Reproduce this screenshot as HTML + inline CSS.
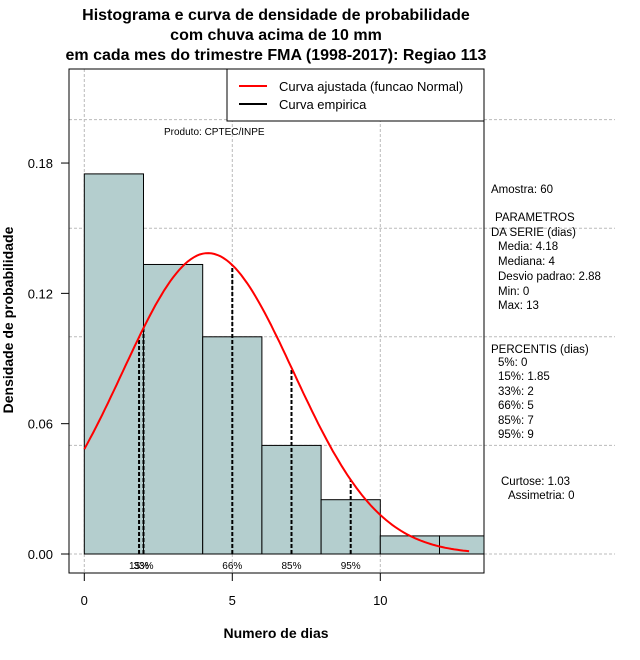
<!DOCTYPE html>
<html><head><meta charset="utf-8"><style>
body{margin:0;background:#fff;}
svg{display:block;font-family:"Liberation Sans",sans-serif;}
</style></head><body>
<svg id="chart" width="640" height="660" viewBox="0 0 640 660" xmlns="http://www.w3.org/2000/svg">
<g font-weight="bold" font-size="16" text-anchor="middle">
<text x="276" y="20">Histograma e curva de densidade de probabilidade</text>
<text x="276" y="40">com chuva acima de 10 mm</text>
<text x="276" y="60">em cada mes do trimestre FMA (1998-2017): Regiao 113</text>
</g>
<g id="grid"></g>
<g id="bars"></g>
<g id="pct"></g>
<path id="curve" fill="none" stroke="#f00" stroke-width="2"/>
<rect x="69" y="69" width="415" height="504" fill="none" stroke="#000"/>
<g id="axes" font-size="13"></g>
<text x="276" y="638" font-weight="bold" font-size="14" text-anchor="middle">Numero de dias</text>
<text transform="translate(13,320) rotate(-90)" font-weight="bold" font-size="14" text-anchor="middle">Densidade de probabilidade</text>
<g>
<rect x="227" y="69" width="257" height="52" fill="#fff" stroke="#000"/>
<line x1="239" y1="86" x2="267" y2="86" stroke="#f00" stroke-width="2"/>
<text x="279" y="91" font-size="13">Curva ajustada (funcao Normal)</text>
<line x1="239" y1="104" x2="267" y2="104" stroke="#000" stroke-width="2"/>
<text x="279" y="109" font-size="13">Curva empirica</text>
</g>
<text x="164" y="135" font-size="10">Produto: CPTEC/INPE</text>
<g font-size="11.5">
<text x="491" y="193">Amostra: 60</text>
<text x="495" y="221">PARAMETROS</text>
<text x="491" y="236">DA SERIE (dias)</text>
<text x="498" y="250">Media: 4.18</text>
<text x="498" y="265">Mediana: 4</text>
<text x="498" y="280">Desvio padrao: 2.88</text>
<text x="498" y="295">Min: 0</text>
<text x="498" y="309">Max: 13</text>
<text x="491" y="353">PERCENTIS (dias)</text>
<text x="498" y="366">5%: 0</text>
<text x="498" y="380">15%: 1.85</text>
<text x="498" y="395">33%: 2</text>
<text x="498" y="409">66%: 5</text>
<text x="498" y="424">85%: 7</text>
<text x="498" y="438">95%: 9</text>
<text x="501" y="485">Curtose: 1.03</text>
<text x="508" y="499">Assimetria: 0</text>
</g>
</svg>
<script>
const binStarts=[0,2,4,6,8,10,12];
const binDensity=[0.175,0.1333,0.1,0.05,0.025,0.00833,0.00833];
const binWidth=2;
const xTicks=[0,5,10];
const yTicks=[0,0.06,0.12,0.18];
const yGrid=[0,0.05,0.1,0.15,0.2];
const pctNames=["15%","33%","66%","85%","95%"];
const pctValues=[1.85,2,5,7,9];
const mean=4.18, sd=2.88, curveMax=13;
const NS="http://www.w3.org/2000/svg";
const X=v=>84.3+v*29.6, Y=v=>554-v*2172;
const L=69,R=484,T=69,B=573;
function mk(tag,attrs,parent){const e=document.createElementNS(NS,tag);for(const k in attrs)e.setAttribute(k,attrs[k]);parent.appendChild(e);return e;}
const dn=x=>Math.exp(-0.5*((x-mean)/sd)**2)/(sd*Math.sqrt(2*Math.PI));
const grid=document.getElementById('grid');
xTicks.forEach(t=>{const l=mk('line',{x1:X(t),x2:X(t),y1:T,y2:B,stroke:'#bbb','stroke-dasharray':'3,2'},grid);

});
yGrid.forEach(t=>{const l=mk('line',{x1:L,x2:615,y1:Y(t),y2:Y(t),stroke:'#bbb','stroke-dasharray':'3,2'},grid);

});
const bars=document.getElementById('bars');
binStarts.forEach((s,i)=>{const x1=X(s),x2=Math.min(X(s+binWidth),R);
const r=mk('rect',{x:x1,y:Y(binDensity[i]),width:x2-x1,height:Y(0)-Y(binDensity[i]),fill:'#b4cece',stroke:'#000','stroke-width':1},bars);

});
const base=mk('line',{x1:X(0),x2:R,y1:Y(0),y2:Y(0),stroke:'#000','stroke-dasharray':'1,2'},bars);


const pct=document.getElementById('pct');
pctValues.forEach((v,i)=>{const l=mk('line',{x1:X(v),x2:X(v),y1:Y(0),y2:Y(dn(v)),stroke:'#000','stroke-width':2,'stroke-dasharray':'4,2'},pct);


const t=mk('text',{x:X(v),y:569,'font-size':10,'text-anchor':'middle'},pct);t.textContent=pctNames[i];

});
let d='';for(let i=0;i<=130;i++){const x=i*curveMax/130;d+=(i?'L':'M')+X(x).toFixed(1)+','+Y(dn(x)).toFixed(1);}
document.getElementById('curve').setAttribute('d',d);
const axes=document.getElementById('axes');
xTicks.forEach(t=>{mk('line',{x1:X(t),x2:X(t),y1:B,y2:B+8,stroke:'#000'},axes);
const tx=mk('text',{x:X(t),y:605,'text-anchor':'middle'},axes);tx.textContent=t;

});
yTicks.forEach(t=>{mk('line',{x1:L-8,x2:L,y1:Y(t),y2:Y(t),stroke:'#000'},axes);
const tx=mk('text',{x:53,y:Y(t)+5,'text-anchor':'end'},axes);tx.textContent=t.toFixed(2);

});
</script>
</body></html>
